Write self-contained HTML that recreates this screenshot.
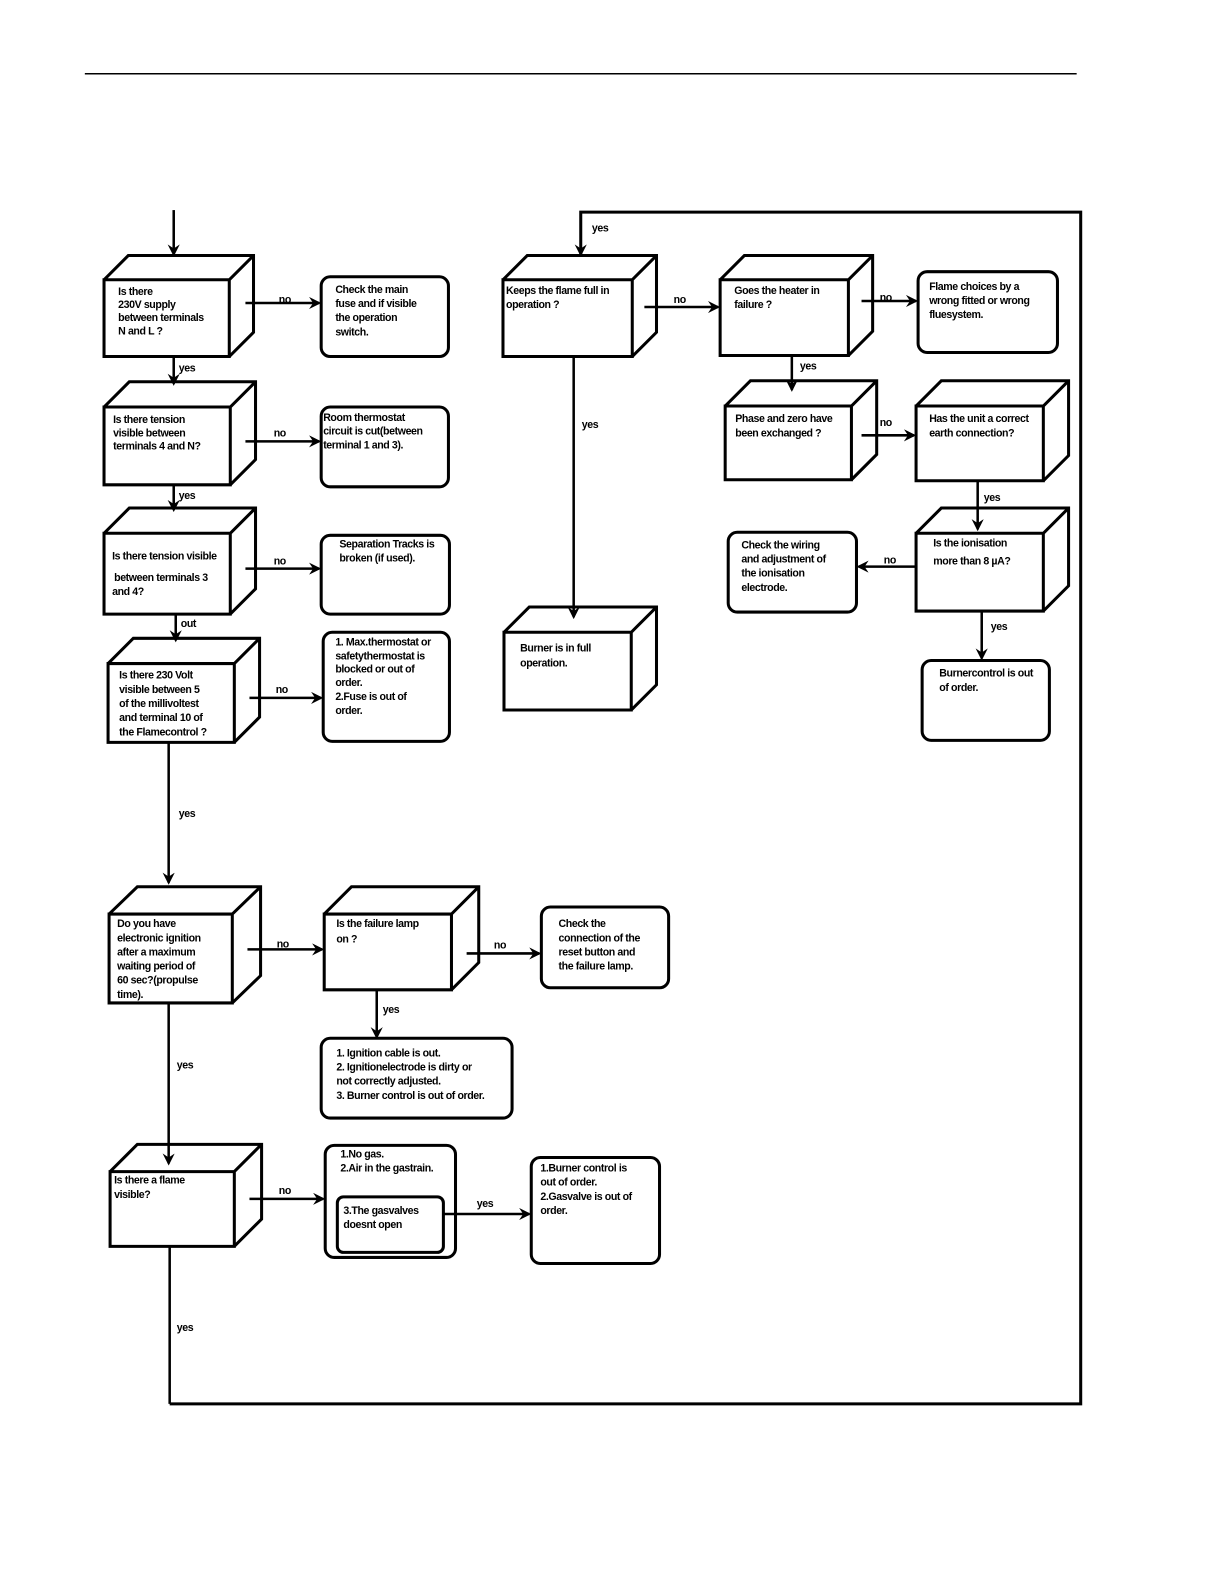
<!DOCTYPE html>
<html><head><meta charset="utf-8"><style>
html,body{margin:0;padding:0;background:#fff;width:1224px;height:1584px;overflow:hidden}
svg text{font-family:"Liberation Sans",sans-serif;font-weight:bold;font-size:10.5px;letter-spacing:-0.4px;fill:#000}
</style></head><body>
<svg width="1224" height="1584" viewBox="0 0 1224 1584" xmlns="http://www.w3.org/2000/svg">
<defs><marker id="a" markerWidth="12" markerHeight="12" refX="10" refY="6" orient="auto" markerUnits="userSpaceOnUse"><path d="M0,0 L12,6 L0,12 L4,6 z" fill="#000"/></marker></defs>
<g transform="scale(1.01)" fill="none" stroke="#000" stroke-width="3" stroke-linejoin="miter">
<line x1="84" y1="73" x2="1066" y2="73" stroke-width="1.5"/>
<!-- cubes -->
<g>
<path d="M103,277h124v76h-124z M103,277l24,-24h124v76l-24,24 M227,277l24,-24"/>
<path d="M103,403h125v77h-125z M103,403l25,-25h125v77l-25,25 M228,403l25,-25"/>
<path d="M103,528h125v80h-125z M103,528l25,-25h125v80l-25,25 M228,528l25,-25"/>
<path d="M107,657h125v78h-125z M107,657l25,-25h125v78l-25,25 M232,657l25,-25"/>
<path d="M498,277h128v76h-128z M498,277l24,-24h128v76l-24,24 M626,277l24,-24"/>
<path d="M713,277h127v75h-127z M713,277l24,-24h127v75l-24,24 M840,277l24,-24"/>
<path d="M718,402h125v73h-125z M718,402l25,-25h125v73l-25,25 M843,402l25,-25"/>
<path d="M907,402h126v74h-126z M907,402l25,-25h126v74l-25,25 M1033,402l25,-25"/>
<path d="M907,528h126v77h-126z M907,528l25,-25h126v77l-25,25 M1033,528l25,-25"/>
<path d="M499,626h126v77h-126z M499,626l25,-25h126v77l-25,25 M625,626l25,-25"/>
<path d="M108,905h122v88h-122z M108,905l28,-27h122v88l-28,27 M230,905l28,-27"/>
<path d="M321,905h126v75h-126z M321,905l27,-27h126v75l-27,27 M447,905l27,-27"/>
<path d="M109,1160h123v74h-123z M109,1160l27,-27h123v74l-27,27 M232,1160l27,-27"/>
</g>
<!-- rounded boxes -->
<rect x="318" y="274" width="126" height="79" rx="9"/>
<rect x="318" y="403" width="126" height="79" rx="9"/>
<rect x="318" y="530" width="127" height="78" rx="9"/>
<rect x="320" y="626" width="125" height="108" rx="9"/>
<rect x="909" y="269" width="138" height="80" rx="9"/>
<rect x="721" y="527" width="127" height="79" rx="9"/>
<rect x="913" y="654" width="126" height="79" rx="9"/>
<rect x="536" y="898" width="126" height="80" rx="9"/>
<rect x="318" y="1028" width="189" height="79" rx="9"/>
<rect x="322" y="1134" width="129" height="111" rx="9"/>
<rect x="334" y="1185" width="105" height="55" rx="6"/>
<rect x="526" y="1146" width="127" height="105" rx="9"/>
<!-- connectors -->
<g stroke-width="2.5">
<line x1="172" y1="208" x2="172" y2="252" marker-end="url(#a)"/>
<line x1="172" y1="353" x2="172" y2="380" marker-end="url(#a)"/>
<line x1="172" y1="480" x2="172" y2="505" marker-end="url(#a)"/>
<line x1="174" y1="608" x2="174" y2="634" marker-end="url(#a)"/>
<line x1="167" y1="735" x2="167" y2="874" marker-end="url(#a)"/>
<line x1="167" y1="993" x2="167" y2="1152" marker-end="url(#a)"/>
<line x1="243" y1="300" x2="316" y2="300" marker-end="url(#a)"/>
<line x1="243" y1="437" x2="316" y2="437" marker-end="url(#a)"/>
<line x1="243" y1="563" x2="316" y2="563" marker-end="url(#a)"/>
<line x1="247" y1="691" x2="318" y2="691" marker-end="url(#a)"/>
<line x1="245" y1="940" x2="319" y2="940" marker-end="url(#a)"/>
<line x1="462" y1="944" x2="534" y2="944" marker-end="url(#a)"/>
<line x1="373" y1="980" x2="373" y2="1027" marker-end="url(#a)"/>
<line x1="247" y1="1187" x2="320" y2="1187" marker-end="url(#a)"/>
<line x1="439" y1="1202" x2="524" y2="1202" marker-end="url(#a)"/>
<line x1="168" y1="1234" x2="168" y2="1390"/>
<polyline points="168,1390 1070,1390 1070,210 575,210 575,252" marker-end="url(#a)" stroke-width="3"/>
<line x1="568" y1="353" x2="568" y2="611" marker-end="url(#a)"/>
<line x1="638" y1="304" x2="711" y2="304" marker-end="url(#a)"/>
<line x1="853" y1="298" x2="907" y2="298" marker-end="url(#a)"/>
<line x1="784" y1="352" x2="784" y2="386" marker-end="url(#a)"/>
<line x1="853" y1="431" x2="905" y2="431" marker-end="url(#a)"/>
<line x1="968" y1="476" x2="968" y2="524" marker-end="url(#a)"/>
<line x1="907" y1="561" x2="850" y2="561" marker-end="url(#a)"/>
<line x1="972" y1="605" x2="972" y2="652" marker-end="url(#a)"/>
</g>
</g>
<g transform="scale(1.01)">
<text x="276" y="300">no</text><text x="271" y="432">no</text><text x="271" y="559">no</text><text x="273" y="686">no</text>
<text x="274" y="938">no</text><text x="489" y="939">no</text><text x="276" y="1182">no</text>
<text x="667" y="300">no</text><text x="871" y="298">no</text><text x="871" y="422">no</text><text x="875" y="558">no</text>
<text x="177" y="368">yes</text><text x="177" y="494">yes</text><text x="179" y="621">out</text>
<text x="177" y="809">yes</text><text x="175" y="1058">yes</text><text x="175" y="1318">yes</text>
<text x="379" y="1003">yes</text><text x="472" y="1195">yes</text><text x="586" y="229">yes</text>
<text x="576" y="424">yes</text><text x="792" y="366">yes</text><text x="974" y="496">yes</text><text x="981" y="624">yes</text>
<text x="117" y="292">Is there</text><text x="117" y="305">230V supply</text><text x="117" y="318">between terminals</text><text x="117" y="331">N and L ?</text>
<text x="332" y="290">Check the main</text><text x="332" y="304">fuse and if visible</text><text x="332" y="318">the operation</text><text x="332" y="332">switch.</text>
<text x="112" y="419">Is there tension</text><text x="112" y="432">visible between</text><text x="112" y="445">terminals 4 and N?</text>
<text x="320" y="417">Room thermostat</text><text x="320" y="430">circuit is cut(between</text><text x="320" y="444">terminal 1 and 3).</text>
<text x="111" y="554">Is there tension visible</text><text x="113" y="575">between terminals 3</text><text x="111" y="589">and 4?</text>
<text x="336" y="542">Separation Tracks is</text><text x="336" y="556">broken (if used).</text>
<text x="118" y="672">Is there 230 Volt</text><text x="118" y="686">visible between 5</text><text x="118" y="700">of the millivoltest</text><text x="118" y="714">and terminal 10 of</text><text x="118" y="728">the Flamecontrol ?</text>
<text x="332" y="639">1. Max.thermostat or</text><text x="332" y="653">safetythermostat is</text><text x="332" y="666">blocked or out of</text><text x="332" y="679">order.</text><text x="332" y="693">2.Fuse is out of</text><text x="332" y="707">order.</text>
<text x="501" y="291">Keeps the flame full in</text><text x="501" y="305">operation ?</text>
<text x="727" y="291">Goes the heater in</text><text x="727" y="305">failure ?</text>
<text x="920" y="287">Flame choices by a</text><text x="920" y="301">wrong fitted or wrong</text><text x="920" y="315">fluesystem.</text>
<text x="728" y="418">Phase and zero have</text><text x="728" y="432">been exchanged ?</text>
<text x="920" y="418">Has the unit a correct</text><text x="920" y="432">earth connection?</text>
<text x="924" y="541">Is the ionisation</text><text x="924" y="559">more than 8 µA?</text>
<text x="734" y="543">Check the wiring</text><text x="734" y="557">and adjustment of</text><text x="734" y="571">the ionisation</text><text x="734" y="585">electrode.</text>
<text x="930" y="670">Burnercontrol is out</text><text x="930" y="684">of order.</text>
<text x="515" y="645">Burner is in full</text><text x="515" y="660">operation.</text>
<text x="116" y="918">Do you have</text><text x="116" y="932">electronic ignition</text><text x="116" y="946">after a maximum</text><text x="116" y="960">waiting period of</text><text x="116" y="974">60 sec?(propulse</text><text x="116" y="988">time).</text>
<text x="333" y="918">Is the failure lamp</text><text x="333" y="933">on ?</text>
<text x="553" y="918">Check the</text><text x="553" y="932">connection of the</text><text x="553" y="946">reset button and</text><text x="553" y="960">the failure lamp.</text>
<text x="333" y="1046">1. Ignition cable is out.</text><text x="333" y="1060">2. Ignitionelectrode is dirty or</text><text x="333" y="1074">not correctly adjusted.</text><text x="333" y="1088">3. Burner control is out of order.</text>
<text x="113" y="1172">Is there a flame</text><text x="113" y="1186">visible?</text>
<text x="337" y="1146">1.No gas.</text><text x="337" y="1160">2.Air in the gastrain.</text>
<text x="340" y="1202">3.The gasvalves</text><text x="340" y="1216">doesnt open</text>
<text x="535" y="1160">1.Burner control is</text><text x="535" y="1174">out of order.</text><text x="535" y="1188">2.Gasvalve is out of</text><text x="535" y="1202">order.</text>
</g>
</svg>
</body></html>
